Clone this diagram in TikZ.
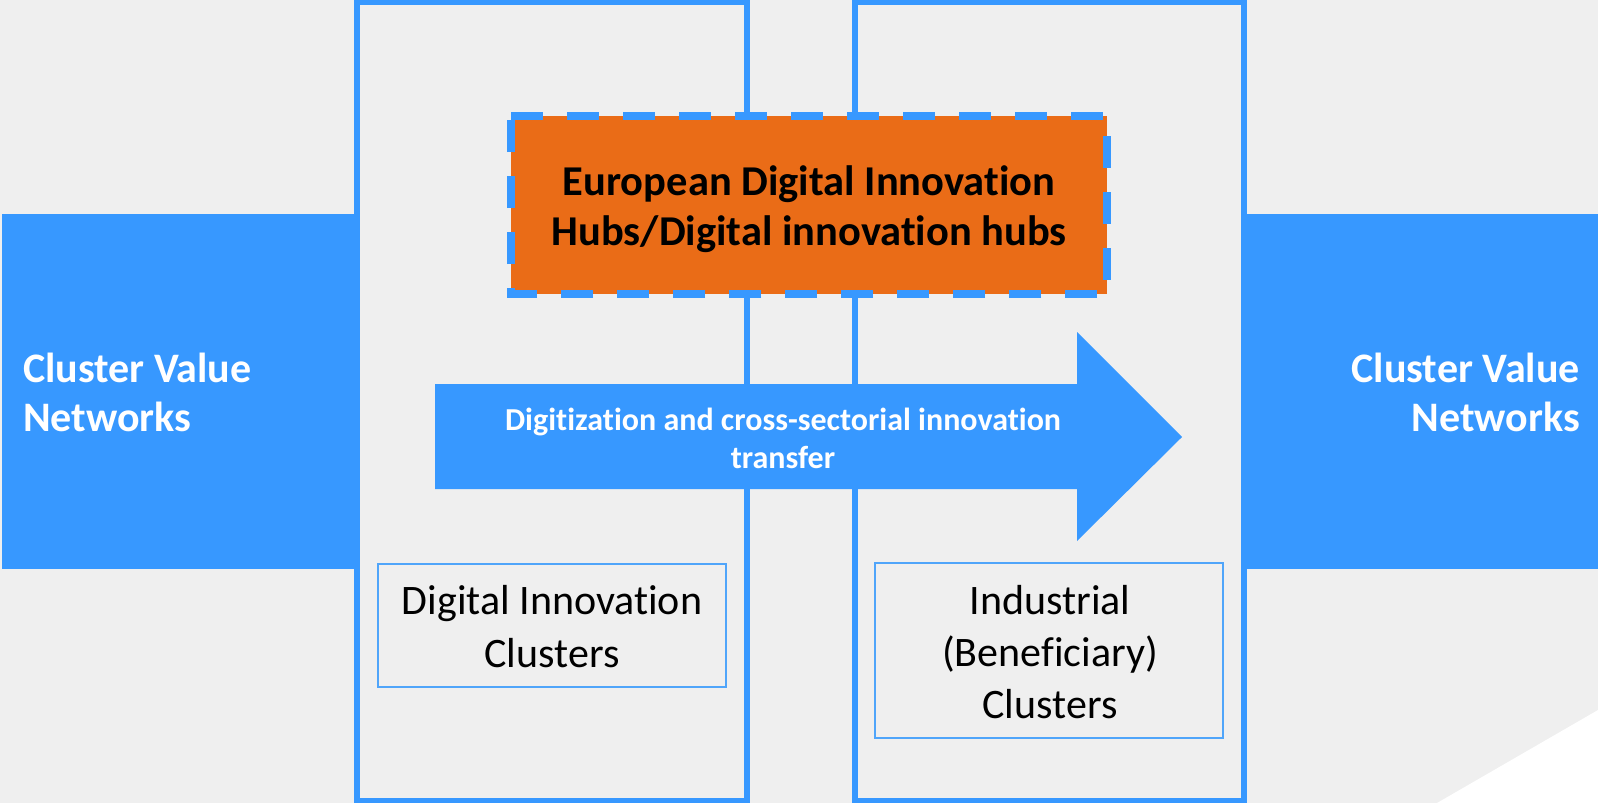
\documentclass[tikz,border=0pt]{standalone}
\usepackage{fontspec}
\setmainfont{Carlito}[Ligatures=CommonOff]
\definecolor{bg}{RGB}{239,239,239}
\definecolor{cblue}{RGB}{55,152,255}
\definecolor{thinblue}{RGB}{80,165,250}
\definecolor{corange}{RGB}{234,108,23}
\tikzset{
  tallbox/.style={draw=cblue, line width=6pt, inner sep=0pt},
  smallbox/.style={draw=thinblue, line width=1.5pt, inner sep=0pt, align=center,
    font=\fontsize{42}{52}\selectfont, text=black},
  sidetext/.style={inner sep=0pt, text=white, font=\bfseries\fontsize{42}{49}\selectfont},
  hubbox/.style={fill=corange, draw=cblue, line width=8pt, dash pattern=on 32pt off 24pt},
}
\begin{document}
\begin{tikzpicture}[x=1pt,y=-1pt]
\useasboundingbox (0,0) rectangle (1598,803);
\fill[bg] (0,0) rectangle (1598,803);
\fill[white] (1437,803) -- (1598,710) -- (1598,803) -- cycle;
% side blocks
\fill[cblue] (2,214) rectangle (360,569);
\fill[cblue] (1244,214) rectangle (1598,569);
\node[sidetext, anchor=west, align=left] (cvl) at (23,392) {Cluster Value\\Networks};
\node[sidetext, anchor=east, align=right] (cvr) at (1580,392) {Cluster Value\\Networks};
% tall boxes
\draw[tallbox] (357,2) rectangle (747,801);
\draw[tallbox] (854.5,2) rectangle (1244,801);
% small boxes
\node[smallbox, minimum width=348pt, minimum height=123pt] (dic) at (552,625.5) {};
\node[inner sep=0pt, align=center, font=\fontsize{42}{53}\selectfont] (dict) at (552,626.5) {Digital Innovation\\Clusters};
\node[smallbox, minimum width=348pt, minimum height=175pt] (ibc) at (1049,650.5) {};
\node[inner sep=0pt, align=center, font=\fontsize{42}{52}\selectfont] (ibct) at (1050,652.5) {Industrial\\(Beneficiary)\\Clusters};
% arrow
\fill[cblue] (435,384) -- (1077,384) -- (1077,332) -- (1182,437) -- (1077,541) -- (1077,489) -- (435,489) -- cycle;
\node[inner sep=0pt, text=white, align=center, font=\bfseries\fontsize{32}{38}\selectfont] (arr) at (783,438) {Digitization and cross-sectorial innovation\\transfer};
% hub box
\path[hubbox] (511,116) -- (1107,116) -- (1107,294) -- (511,294) -- cycle;
\node[inner sep=0pt, text=black, align=center, font=\bfseries\fontsize{42.5}{50}\selectfont] (hub) at (809,209) {European Digital Innovation\\Hubs/Digital innovation hubs};
\end{tikzpicture}
\end{document}
